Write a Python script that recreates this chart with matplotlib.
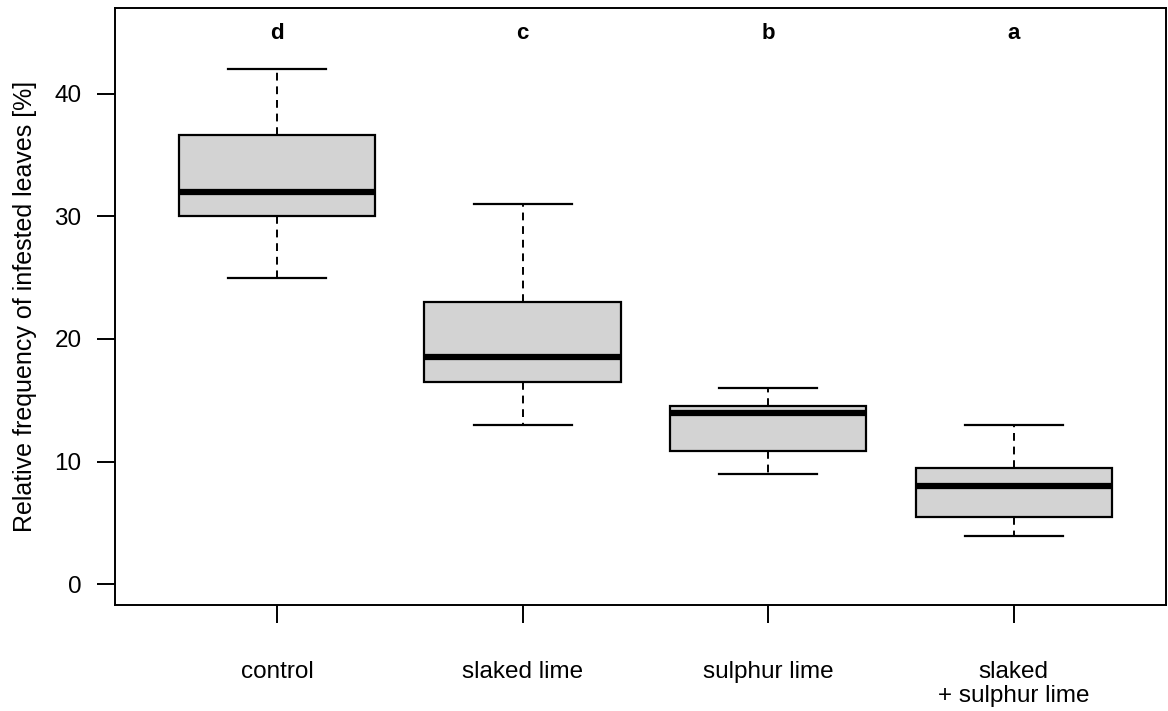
import matplotlib
matplotlib.use("Agg")
import matplotlib.pyplot as plt

plt.rcParams['font.family'] = ['Liberation Sans', 'DejaVu Sans']

groups = ['control', 'slaked lime', 'sulphur lime', 'slaked\n+ sulphur lime']
letters = ['d', 'c', 'b', 'a']
whislo = [25, 13, 9, 3.9]
q1 = [30, 16.5, 10.9, 5.5]
med = [32, 18.5, 14, 8]
q3 = [36.6, 23, 14.5, 9.5]
whishi = [42, 31, 16, 13]

stats = []
for i, g in enumerate(groups):
    stats.append(dict(label=g, whislo=whislo[i], q1=q1[i], med=med[i],
                      q3=q3[i], whishi=whishi[i], fliers=[]))

fig = plt.figure(figsize=(11.68, 7.11), dpi=100)
ax = fig.add_axes([115/1168, 1 - 605/711, 1051/1168, 597/711])

pos = list(range(1, len(groups) + 1))
ax.bxp(stats, positions=pos, widths=0.8, patch_artist=True, showfliers=False,
       boxprops=dict(facecolor='#d3d3d3', edgecolor='black', linewidth=1.6),
       medianprops=dict(color='black', linewidth=4.5, solid_capstyle='butt'),
       whiskerprops=dict(color='black', linewidth=1.4, linestyle=(0, (4, 3))),
       capprops=dict(color='black', linewidth=1.6), capwidths=0.4)

# significance letters above each box
for p, l in zip(pos, letters):
    ax.text(p, 44.9, l, ha='center', va='center', fontsize=16, fontweight='bold')

ax.set_xlim(0.34, 4.62)
ax.set_ylim(-1.7, 47.0)
ax.set_yticks([0, 10, 20, 30, 40])
ax.set_xticks(pos)
ax.set_xticklabels(groups, fontsize=17.5, linespacing=1.1)
ax.tick_params(axis='x', length=13, width=1.4, pad=27.5)
ax.tick_params(axis='y', length=13, width=1.4, pad=11, labelsize=17.5)
for lab in ax.get_xticklabels():
    lab.set_verticalalignment('top')
for s in ax.spines.values():
    s.set_linewidth(1.4)
ax.set_ylabel('Relative frequency of infested leaves [%]', fontsize=18)
ax.yaxis.set_label_coords(-0.0742, 0.5)

fig.savefig('out.png', dpi=100)
